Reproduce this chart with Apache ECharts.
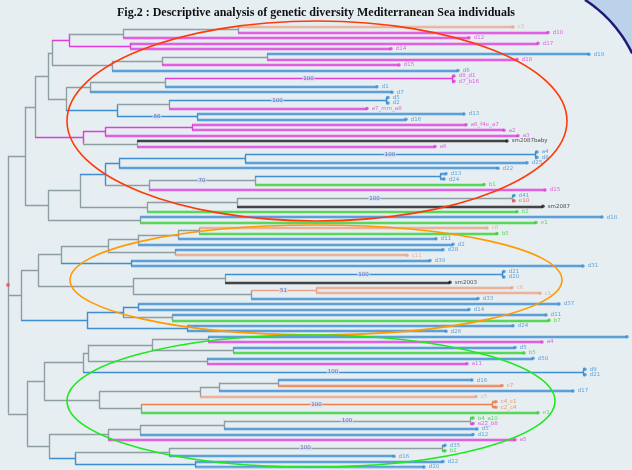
<!DOCTYPE html>
<html>
<head>
<meta charset="utf-8">
<script src="https://cdn.jsdelivr.net/npm/echarts@6/dist/echarts.min.js"></script>
<style>
html, body { margin: 0; padding: 0; background: #e6eef2; }
#tree { width: 632px; height: 470px; }
</style>
</head>
<body>
<div id="tree"></div>
<script>
// leaves, top to bottom
var leafNames = [
    "c3", "d10", "d12", "d17", "d14", "d19", "d18", "d15", "d6", "d8_d1",
    "d7_b16", "d1", "d7", "d5", "d2", "a7_mm_a8", "d13", "d16", "a6_f4e_a7", "a2",
    "a3", "sm2087baby", "a6", "a4", "d8", "d25", "d22", "d13", "d24", "b1",
    "d15", "d41", "e10", "sm2087", "b2", "d18", "e1", "c8", "b5", "d11",
    "d2", "d28", "c11", "d39", "d31", "d21", "d20", "sm2003", "c6", "c1",
    "d33", "d37", "d14", "d11", "b7", "d24", "d26", "d30", "a4", "d5",
    "b5", "d50", "a11", "d9", "d21", "d16", "c7", "d17", "c5", "c4_c1",
    "c2_c4", "e1", "b4_a10", "a22_b8", "d5", "d12", "a5", "d35", "b2", "d16",
    "d22", "d20"
];
// M magenta, B blue, G green, T tan, O orange, R red, K black
var leafGroups = "TMMMMBMMBMMBBBBMBBMMMKMBBBBBBGMBRKGBGTGBBBTBBBBKTTBBBBGBBBMBGBMBBBOBTOOGGMBBMBGBBB".split('');
// distance from the root
var leafDepth = [
    505, 540, 461, 530, 383, 581, 509, 391, 450, 446,
    446, 369, 384, 380, 380, 359, 456, 398, 458, 496,
    510, 499, 427, 529, 529, 519, 490, 438, 436, 476,
    537, 506, 506, 535, 509, 594, 528, 479, 489, 428,
    445, 435, 399, 422, 575, 496, 496, 442, 504, 532,
    470, 551, 461, 538, 541, 505, 438, 619, 534, 507,
    516, 525, 459, 577, 577, 464, 494, 565, 468, 488,
    488, 530, 465, 465, 469, 465, 507, 437, 437, 386,
    435, 416
];
// internal nodes: name, depth, children, bootstrap
var internalNodes = [
    ['B', 230, 'L0 L1', ''], ['A', 115, 'B L2', ''], ['C', 122, 'L3 L4', ''], ['D', 61, 'A C', ''],
    ['H', 259, 'L5 L6', ''], ['G', 154, 'H L7', ''], ['F', 104, 'G L8', ''], ['E', 44, 'D F', ''],
    ['M2', 444, 'L9 L10', '100'], ['M', 157, 'M2 L11', ''], ['K', 82, 'M L12', ''],
    ['P', 378, 'L13 L14', '100'], ['N', 161, 'P L15', ''], ['O', 189, 'L16 L17', '66'],
    ['L', 109, 'N O', ''], ['J', 58, 'K L', ''], ['I', 40, 'E J', ''],
    ['S2', 184, 'L18 L19', ''], ['S', 97, 'S2 L20', ''], ['T', 129, 'L21 L22', ''], ['R', 75, 'S T', ''],
    ['Q', 27, 'I R', ''],
    ['X3a', 527, 'L23 L24', '100'], ['X3', 237, 'X3a L25', ''], ['X1', 111, 'X3 L26', ''],
    ['X6', 432, 'L27 L28', ''], ['X5', 247, 'X6 L29', '70'], ['X2', 141, 'X5 L30', ''], ['X', 97, 'X1 X2', ''],
    ['Y3', 504, 'L31 L32', '100'], ['Y2', 229, 'Y3 L33', ''], ['Y', 139, 'Y2 L34', ''], ['W', 72, 'X Y', ''],
    ['V2', 132, 'L35 L36', ''], ['V', 40, 'W V2', ''], ['U', 17, 'Q V', ''],
    ['na', 191, 'L37 L38', ''], ['nb', 170, 'na L39', ''], ['nc', 130, 'nb L40', ''], ['ne', 167, 'L41 L42', ''],
    ['nd', 100, 'nc ne', ''], ['nf', 123, 'L43 L44', ''], ['O4', 53, 'nd nf', ''],
    ['O7a', 494, 'L45 L46', '100'], ['O7', 217, 'O7a L47', ''], ['O8a', 308, 'L48 L49', '51'],
    ['O8', 243, 'O8a L50', ''], ['O5', 125, 'O7 O8', ''], ['O2', 30, 'O4 O5', ''],
    ['O9a', 130, 'L51 L52', ''], ['O9b', 164, 'L53 L54', ''], ['O9', 115, 'O9a O9b', ''],
    ['O10', 179, 'L55 L56', ''], ['O3', 79, 'O9 O10', ''], ['O1', 13, 'O2 O3', ''],
    ['G11', 200, 'L57 L58', ''], ['G10', 225, 'L59 L60', ''], ['G7', 144, 'G11 G10', ''],
    ['G9', 199, 'L61 L62', ''], ['G6', 80, 'G7 G9', ''], ['G12', 575, 'L63 L64', '100'], ['G4', 75, 'G6 G12', ''],
    ['G16', 270, 'L65 L66', ''], ['G15', 211, 'G16 L67', ''], ['G13', 192, 'G15 L68', ''],
    ['G17', 484, 'L69 L70', '100'], ['G14', 133, 'G17 L71', ''], ['G5', 91, 'G13 G14', ''], ['G2', 36, 'G4 G5', ''],
    ['G21', 462, 'L72 L73', '100'], ['G22', 216, 'G21 L74', ''], ['G20', 132, 'G22 L75', ''], ['G18', 100, 'G20 L76', ''],
    ['G25', 434, 'L77 L78', '100'], ['G23', 161, 'G25 L79', ''], ['G24', 187, 'L80 L81', ''],
    ['G19', 67, 'G23 G24', ''], ['G3', 41, 'G18 G19', ''], ['G1', 19, 'G2 G3', ''],
    ['root', 0, 'U O1 G1', '']
];

var groupColors = { M: '#e03cdc', B: '#3d8ed0', G: '#36d236', T: '#eda283', O: '#ef7d48', R: '#e8514c', K: '#1b1b1b' };
var branchGray = '#8f9ea3';

var nodes = {};
internalNodes.forEach(function (r) {
    nodes[r[0]] = { x: r[1], kids: r[2].split(' '), support: r[3] };
});
function isLeaf(ref) { return /^L\d+$/.test(ref); }
// returns position plus the list of leaf groups below
function place(ref) {
    if (isLeaf(ref)) {
        var i = +ref.slice(1);
        return { x: leafDepth[i], y: i, group: leafGroups[i], leaves: [leafGroups[i]] };
    }
    var n = nodes[ref];
    var kids = n.kids.map(place);
    n.kidPos = kids;
    n.y = (kids[0].y + kids[kids.length - 1].y) / 2;
    var all = [];
    kids.forEach(function (k) { all = all.concat(k.leaves); });
    var count = {};
    all.forEach(function (g) { count[g] = (count[g] || 0) + 1; });
    n.group = null;
    Object.keys(count).forEach(function (g) { if (count[g] / all.length > 0.7) n.group = g; });
    return { x: n.x, y: n.y, group: n.group, leaves: all };
}
place('root');

var innerSegs = [], leafSegs = [], supportPts = [];
Object.keys(nodes).forEach(function (name) {
    var n = nodes[name];
    var first = n.kidPos[0], last = n.kidPos[n.kidPos.length - 1];
    innerSegs.push({ coords: [[n.x, first.y], [n.x, last.y]], lineStyle: { color: n.group ? groupColors[n.group] : branchGray } });
    n.kids.forEach(function (ref, j) {
        var k = n.kidPos[j];
        var seg = { coords: [[n.x, k.y], [k.x, k.y]], lineStyle: { color: k.group ? groupColors[k.group] : branchGray } };
        if (isLeaf(ref)) leafSegs.push(seg); else innerSegs.push(seg);
        if (!isLeaf(ref) && nodes[ref].support) {
            supportPts.push({ value: [(n.x + k.x) / 2, k.y], label: { formatter: nodes[ref].support } });
        }
    });
});

var tips = leafNames.map(function (name, i) {
    return {
        value: [leafDepth[i], i], name: name,
        itemStyle: { color: groupColors[leafGroups[i]] },
        label: { color: groupColors[leafGroups[i]] }
    };
});

// corner decoration arc
var arcPts = [];
for (var a = -57.2; a <= -25.6; a += 1.5) {
    arcPts.push([514 + 131 * Math.cos(a * Math.PI / 180), 110 + 131 * Math.sin(a * Math.PI / 180)]);
}
arcPts.push([514 + 131 * Math.cos(-25.6 * Math.PI / 180), 110 + 131 * Math.sin(-25.6 * Math.PI / 180)]);

var chart = echarts.init(document.getElementById('tree'));
var option = {
    backgroundColor: '#e6eef2',
    animation: false,
    title: {
        text: 'Fig.2 : Descriptive analysis of genetic diversity Mediterranean Sea individuals',
        left: 'center',
        top: 2,
        textStyle: { fontFamily: 'Liberation Serif', fontWeight: 'bold', fontSize: 12, color: '#111' }
    },
    grid: { left: 0, right: 0, top: 27, bottom: 3 },
    xAxis: { type: 'value', min: -8, max: 624, show: false },
    yAxis: { type: 'value', min: 0, max: 81, inverse: true, show: false },
    graphic: [
        { type: 'polygon', shape: { points: arcPts.concat([[632, 0]]) }, style: { fill: '#bcd2ea' }, z: 0 },
        { type: 'polyline', shape: { points: arcPts }, style: { stroke: '#1d1a7c', lineWidth: 2.5, fill: null }, z: 1 },
        { type: 'ellipse', shape: { cx: 317, cy: 121, rx: 250, ry: 100 }, style: { stroke: '#ff3a0a', lineWidth: 1.6, fill: null }, z: 100 },
        { type: 'ellipse', shape: { cx: 316, cy: 280, rx: 246, ry: 55 }, style: { stroke: '#ff9a00', lineWidth: 1.6, fill: null }, z: 100 },
        { type: 'ellipse', shape: { cx: 311, cy: 401, rx: 244, ry: 66 }, style: { stroke: '#1ee81e', lineWidth: 1.6, fill: null }, z: 100 }
    ],
    series: [
        {
            type: 'lines', coordinateSystem: 'cartesian2d', polyline: false, silent: true,
            lineStyle: { width: 4, opacity: 0.22 },
            data: leafSegs
        },
        {
            type: 'lines', coordinateSystem: 'cartesian2d', polyline: false, silent: true,
            lineStyle: { width: 1.4, opacity: 1 },
            data: innerSegs
        },
        {
            type: 'lines', coordinateSystem: 'cartesian2d', polyline: false, silent: true,
            lineStyle: { width: 1.6, opacity: 1 },
            data: leafSegs
        },
        {
            type: 'scatter', symbolSize: 3.5, data: tips,
            label: {
                show: true, position: 'right', distance: 3, fontSize: 5.5,
                fontFamily: 'DejaVu Sans', formatter: '{b}'
            }
        },
        {
            type: 'scatter', symbolSize: 0, data: supportPts,
            label: {
                show: true, position: 'inside', fontSize: 5.5, fontFamily: 'DejaVu Sans',
                color: '#4a4cb0', backgroundColor: 'rgba(214,226,242,0.85)', padding: [0, 1]
            }
        },
        {
            type: 'scatter', symbolSize: 4, data: [[0, nodes.root.y]],
            itemStyle: { color: '#e8506a' }
        }
    ]
};
chart.setOption(option);
</script>
</body>
</html>
